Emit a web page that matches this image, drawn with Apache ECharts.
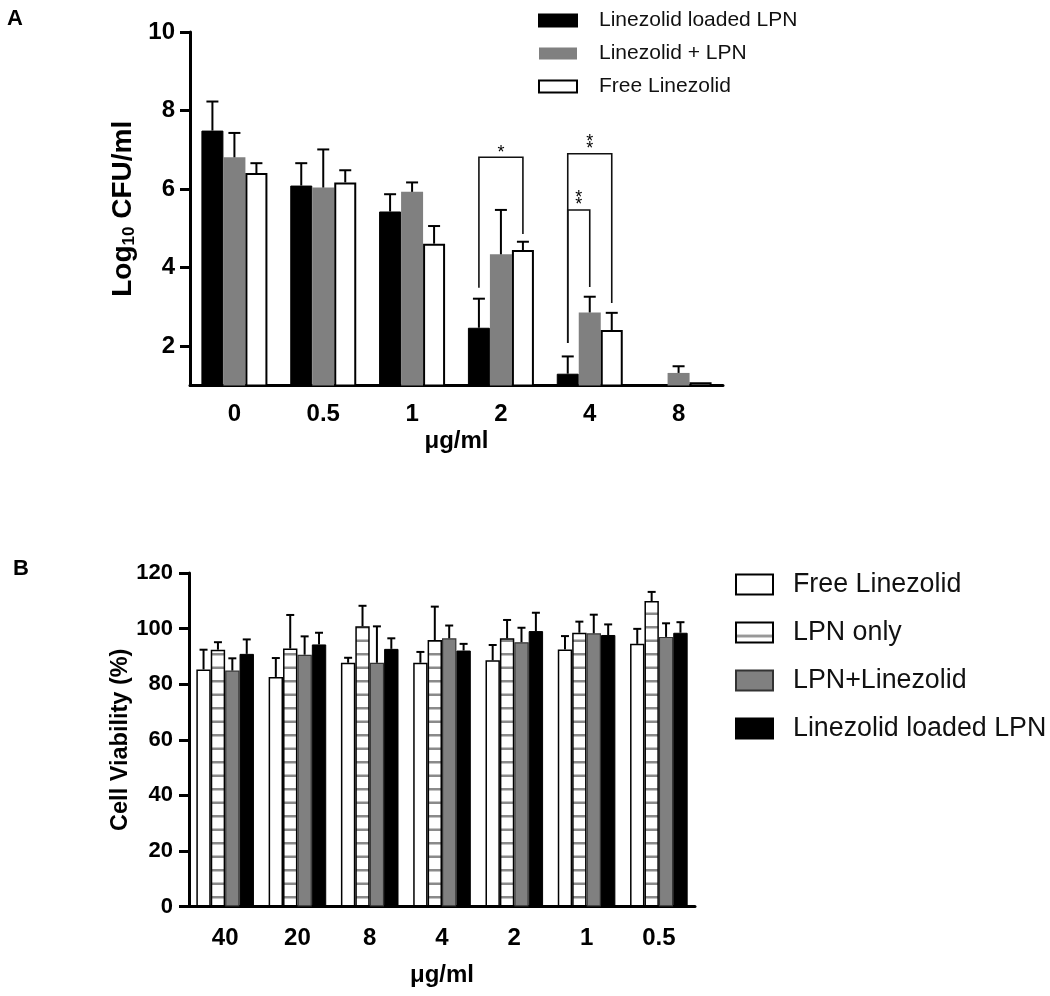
<!DOCTYPE html>
<html>
<head>
<meta charset="utf-8">
<script src="https://cdn.jsdelivr.net/npm/echarts@6/dist/echarts.min.js"></script>
<style>html,body{margin:0;padding:0;background:#fff;}#c{width:1050px;height:996px;}</style>
</head>
<body>
<div id="c"></div>
<script>
// ---------- Panel A data ----------
const catsA = ['0', '0.5', '1', '2', '4', '8'];
const yTicksA = [2, 4, 6, 8, 10];
const loadedA = [7.49, 6.09, 5.43, 2.47, 1.30, null];
const loadedAErr = [0.74, 0.57, 0.44, 0.74, 0.44, 0];
const mixA = [6.81, 6.04, 5.93, 4.34, 2.86, 1.32];
const mixAErr = [0.62, 0.97, 0.24, 1.13, 0.40, 0.17];
const freeA = [6.41, 6.17, 4.61, 4.45, 2.41, 1.08];
const freeAErr = [0.25, 0.31, 0.45, 0.21, 0.44, 0];
// significance brackets (panel A)
const sigCat = [3, 4, 4];
const sigFrom = [0, 0, 0];
const sigTo = [2, 2, 1];
const sigTop = [6.81, 6.90, 5.47];
const sigLeftEnd = [3.49, 2.08, 2.08];
const sigRightEnd = [4.86, 3.10, 3.51];
const sigLabel = ['*', '**', '**'];

// ---------- Panel B data ----------
const catsB = ['40', '20', '8', '4', '2', '1', '0.5'];
const freeB = [85.3, 82.6, 87.7, 87.7, 88.6, 92.5, 94.5];
const freeBErr = [7.1, 6.8, 1.8, 3.9, 5.5, 4.8, 5.4];
const lpnB = [92.4, 92.8, 100.8, 95.9, 96.5, 98.5, 109.9];
const lpnBErr = [2.7, 12.1, 7.4, 12.0, 6.6, 4.0, 3.3];
const mixB = [84.9, 90.6, 87.7, 96.5, 95.1, 98.3, 97.0];
const mixBErr = [4.4, 6.6, 13.1, 4.6, 5.2, 6.7, 4.9];
const loadedB = [90.9, 94.3, 92.7, 92.1, 99.1, 97.7, 98.5];
const loadedBErr = [5.2, 4.2, 3.8, 2.4, 6.6, 3.8, 3.8];

const FONT = '"Liberation Sans", Arial, Helvetica, sans-serif';
const BW_A = 22, BW_B = 14.4;

function stripeCanvas(h, stripes) {
  const c = document.createElement('canvas');
  c.width = 8; c.height = h;
  const g = c.getContext('2d');
  g.fillStyle = '#ffffff'; g.fillRect(0, 0, 8, h);
  g.fillStyle = '#8a8a8a';
  stripes.forEach(s => g.fillRect(0, s, 8, 2.5));
  return c;
}
const stripeBar = { image: stripeCanvas(27, [5, 18.5]), repeat: 'repeat' };
const stripeLegend = { image: stripeCanvas(27, [12.25]), repeat: 'repeat' };

function errSeries(gi, vals, errs, k, n, bw, cap) {
  const data = [];
  vals.forEach((v, i) => { if (v != null && errs[i] > 0) data.push([i, v, errs[i]]); });
  return {
    type: 'custom', xAxisIndex: gi, yAxisIndex: gi, z: 5, silent: true,
    data: data, encode: { x: 0, y: 1 },
    renderItem: function (params, api) {
      const i = api.value(0), v = api.value(1), e = api.value(2);
      const p0 = api.coord([i, v]);
      const p1 = api.coord([i, v + e]);
      const x = p0[0] + (k - (n - 1) / 2) * bw;
      return {
        type: 'group', children: [
          { type: 'line', shape: { x1: x, y1: p0[1], x2: x, y2: p1[1] }, style: { stroke: '#000', lineWidth: 2 } },
          { type: 'line', shape: { x1: x - cap / 2, y1: p1[1], x2: x + cap / 2, y2: p1[1] }, style: { stroke: '#000', lineWidth: 2 } }
        ]
      };
    }
  };
}

const sigData = sigCat.map((c, i) => [c, sigTop[i], sigFrom[i], sigTo[i], sigLeftEnd[i], sigRightEnd[i]]);
const bracketSeries = {
  type: 'custom', xAxisIndex: 0, yAxisIndex: 0, z: 6, silent: true,
  data: sigData, encode: { x: 0, y: 1 },
  renderItem: function (params, api) {
    const ci = api.value(0), top = api.value(1);
    const from = api.value(2), to = api.value(3);
    const c = api.coord([ci, top]);
    const xL = c[0] + (from - 1) * BW_A, xR = c[0] + (to - 1) * BW_A;
    const yL = api.coord([ci, api.value(4)])[1];
    const yR = api.coord([ci, api.value(5)])[1];
    const lab = sigLabel[params.dataIndex].split('').join('\n');
    return {
      type: 'group', children: [
        { type: 'polyline', shape: { points: [[xL, yL], [xL, c[1]], [xR, c[1]], [xR, yR]] }, style: { stroke: '#111', lineWidth: 1.6, fill: null } },
        { type: 'text', style: { text: lab, x: (xL + xR) / 2, y: c[1] - 1, align: 'center', verticalAlign: 'bottom', fontSize: 18, lineHeight: 7, fill: '#000', fontFamily: FONT } }
      ]
    };
  }
};

const axisLineStyle = { color: '#000', width: 3 };
const chart = echarts.init(document.getElementById('c'), null, { renderer: 'canvas' });
chart.setOption({
  animation: false,
  backgroundColor: '#fff',
  textStyle: { fontFamily: FONT },
  title: [
    { text: 'A', left: 2, top: 3, textStyle: { fontSize: 22, fontWeight: 'bold', color: '#000', fontFamily: FONT } },
    { text: 'B', left: 8, top: 553, textStyle: { fontSize: 22, fontWeight: 'bold', color: '#000', fontFamily: FONT } }
  ],
  legend: [
    {
      data: ['Linezolid loaded LPN', 'Linezolid + LPN', 'Free Linezolid'],
      orient: 'vertical', left: 533, top: 5, itemWidth: 38, itemHeight: 12, itemGap: 12,
      icon: 'rect', selectedMode: false,
      textStyle: { fontSize: 21, lineHeight: 20, color: '#111', padding: [0, 0, 0, 17], fontFamily: FONT }
    },
    {
      data: ['Free Linezolid ', { name: 'LPN only', itemStyle: { color: stripeLegend } }, 'LPN+Linezolid', 'Linezolid loaded LPN '],
      orient: 'vertical', left: 730, top: 566, itemWidth: 37, itemHeight: 20, itemGap: 21,
      icon: 'rect', selectedMode: false,
      textStyle: { fontSize: 26.8, lineHeight: 26, color: '#111', padding: [0, 0, 0, 15], fontFamily: FONT }
    }
  ],
  grid: [
    { left: 190, top: 32, width: 533, height: 353.5 },
    { left: 189, top: 573, width: 506, height: 333.5 }
  ],
  xAxis: [
    {
      type: 'category', gridIndex: 0, data: catsA,
      axisLine: { lineStyle: axisLineStyle },
      axisTick: { alignWithLabel: true, length: 10, lineStyle: { color: '#000', width: 3 } },
      axisLabel: { fontSize: 24, fontWeight: 'bold', color: '#000', margin: 17, fontFamily: FONT },
      name: 'μg/ml', nameLocation: 'middle', nameGap: 44,
      nameTextStyle: { fontSize: 24, fontWeight: 'bold', color: '#000', fontFamily: FONT }
    },
    {
      type: 'category', gridIndex: 1, data: catsB,
      axisLine: { lineStyle: axisLineStyle },
      axisTick: { alignWithLabel: true, length: 10, lineStyle: { color: '#000', width: 3 } },
      axisLabel: { fontSize: 24, fontWeight: 'bold', color: '#000', margin: 20, fontFamily: FONT },
      name: 'μg/ml', nameLocation: 'middle', nameGap: 57,
      nameTextStyle: { fontSize: 24, fontWeight: 'bold', color: '#000', fontFamily: FONT }
    }
  ],
  yAxis: [
    {
      type: 'value', gridIndex: 0, min: 1, max: 10,
      axisLine: { show: true, lineStyle: axisLineStyle },
      axisTick: { show: true, length: 10, lineStyle: { color: '#000', width: 3 }, customValues: yTicksA },
      axisLabel: { customValues: yTicksA, fontSize: 24, fontWeight: 'bold', color: '#000', margin: 15, fontFamily: FONT },
      splitLine: { show: false },
      name: '{a|Log}{s|10}{a| CFU/ml}', nameLocation: 'middle', nameGap: 44,
      nameTextStyle: {
        fontFamily: FONT,
        rich: {
          a: { fontSize: 28, fontWeight: 'bold', color: '#000', fontFamily: FONT },
          s: { fontSize: 17, fontWeight: 'bold', color: '#000', verticalAlign: 'bottom', fontFamily: FONT }
        }
      }
    },
    {
      type: 'value', gridIndex: 1, min: 0, max: 120, interval: 20,
      axisLine: { show: true, lineStyle: axisLineStyle },
      axisTick: { show: true, length: 10, lineStyle: { color: '#000', width: 3 } },
      axisLabel: { fontSize: 22, fontWeight: 'bold', color: '#000', margin: 16, fontFamily: FONT },
      splitLine: { show: false },
      name: 'Cell Viability (%)', nameLocation: 'middle', nameGap: 56,
      nameTextStyle: { fontSize: 23.5, fontWeight: 'bold', color: '#000', fontFamily: FONT }
    }
  ],
  series: [
    { name: 'Linezolid loaded LPN', type: 'bar', xAxisIndex: 0, yAxisIndex: 0, data: loadedA, barWidth: BW_A, barGap: '0%',
      itemStyle: { color: '#000', borderColor: '#000', borderWidth: 1 } },
    { name: 'Linezolid + LPN', type: 'bar', xAxisIndex: 0, yAxisIndex: 0, data: mixA, barWidth: BW_A, barGap: '0%',
      itemStyle: { color: '#808080' } },
    { name: 'Free Linezolid', type: 'bar', xAxisIndex: 0, yAxisIndex: 0, data: freeA, barWidth: BW_A, barGap: '0%',
      itemStyle: { color: '#fff', borderColor: '#000', borderWidth: 2 } },
    errSeries(0, loadedA, loadedAErr, 0, 3, BW_A, 12),
    errSeries(0, mixA, mixAErr, 1, 3, BW_A, 12),
    errSeries(0, freeA, freeAErr, 2, 3, BW_A, 12),
    bracketSeries,

    { name: 'Free Linezolid ', type: 'bar', xAxisIndex: 1, yAxisIndex: 1, data: freeB, barWidth: BW_B, barGap: '0%',
      itemStyle: { color: '#fff', borderColor: '#000', borderWidth: 1.5 } },
    { name: 'LPN only', type: 'bar', xAxisIndex: 1, yAxisIndex: 1, data: lpnB, barWidth: BW_B, barGap: '0%',
      itemStyle: { color: stripeBar, borderColor: '#000', borderWidth: 1.5 } },
    { name: 'LPN+Linezolid', type: 'bar', xAxisIndex: 1, yAxisIndex: 1, data: mixB, barWidth: BW_B, barGap: '0%',
      itemStyle: { color: '#808080', borderColor: '#333', borderWidth: 1.2 } },
    { name: 'Linezolid loaded LPN ', type: 'bar', xAxisIndex: 1, yAxisIndex: 1, data: loadedB, barWidth: BW_B, barGap: '0%',
      itemStyle: { color: '#000', borderColor: '#000', borderWidth: 1 } },
    errSeries(1, freeB, freeBErr, 0, 4, BW_B, 8),
    errSeries(1, lpnB, lpnBErr, 1, 4, BW_B, 8),
    errSeries(1, mixB, mixBErr, 2, 4, BW_B, 8),
    errSeries(1, loadedB, loadedBErr, 3, 4, BW_B, 8)
  ]
});
</script>
</body>
</html>
